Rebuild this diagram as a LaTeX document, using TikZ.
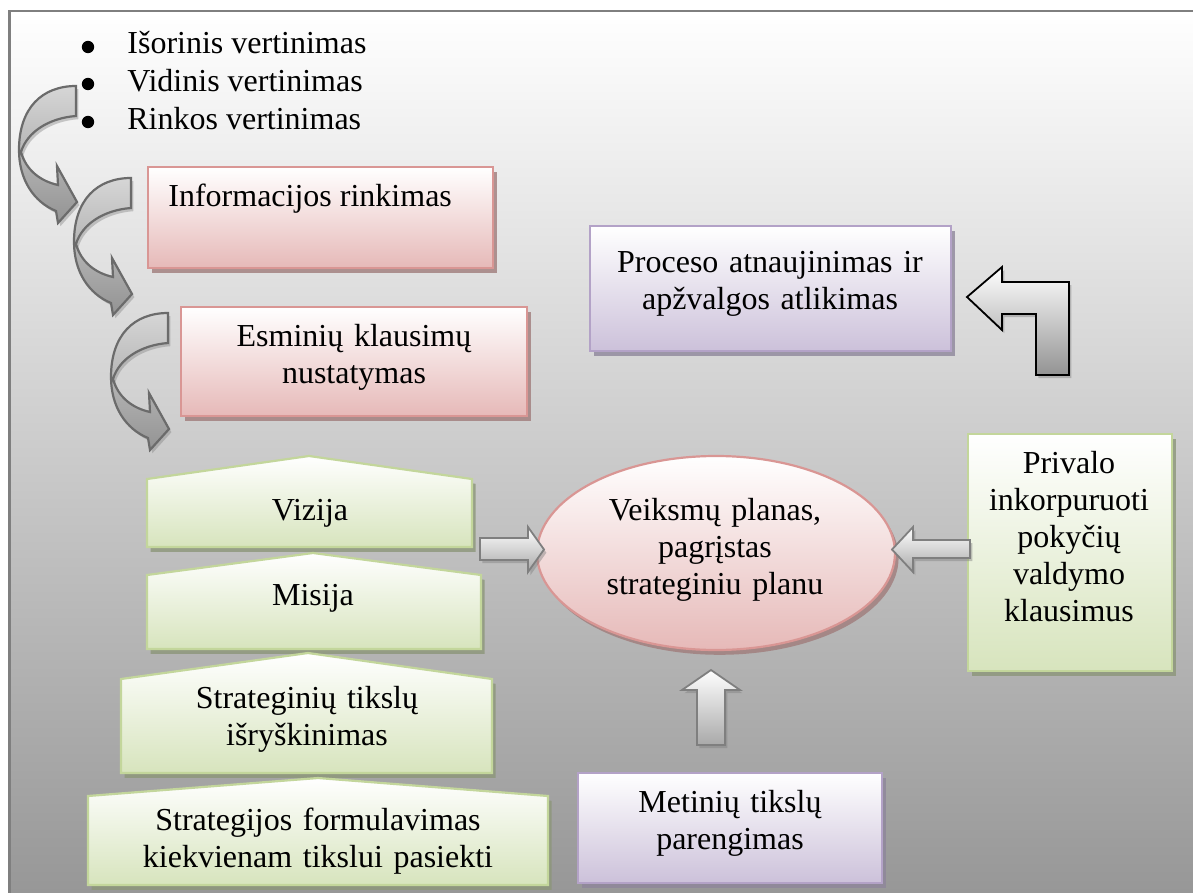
\documentclass[tikz,border=0pt]{standalone}
\usepackage{fontspec}
\setmainfont{Liberation Serif}
\usetikzlibrary{shadows,shapes.geometric}

\definecolor{framegray}{HTML}{7F7F7F}
\definecolor{bgbottom}{HTML}{979797}
\definecolor{pinkline}{HTML}{D99694}
\definecolor{pinkfill}{HTML}{E6B9B8}
\definecolor{pinkshadow}{HTML}{A07C7B}
\definecolor{greenline}{HTML}{C3D69B}
\definecolor{greenfill}{HTML}{D7E4BD}
\definecolor{greenshadow}{HTML}{8C9679}
\definecolor{violetline}{HTML}{B3A2C7}
\definecolor{violetfill}{HTML}{CCC1DA}
\definecolor{violetshadow}{HTML}{8E869B}
\definecolor{arrowline}{HTML}{6B6B6B}
\definecolor{arrowlight}{HTML}{D6D6D6}
\definecolor{arrowdark}{HTML}{939393}

\tikzset{
  txt/.style={font=\fontsize{16}{18.5}\selectfont, inner sep=0pt},
  mtxt/.style={txt, align=center, text width=#1},
  boxshadow/.style={drop shadow={shadow xshift=1.8pt, shadow yshift=-2.4pt, opacity=.8, fill=#1}},
  pinkbox/.style={rectangle, draw=pinkline, line width=1.1pt, top color=white, bottom color=pinkfill, boxshadow=pinkshadow, inner sep=0pt},
  greenbox/.style={rectangle, draw=greenline, line width=1.1pt, top color=white, bottom color=greenfill, boxshadow=greenshadow, inner sep=0pt},
  violetbox/.style={rectangle, draw=violetline, line width=1.1pt, top color=white, bottom color=violetfill, boxshadow=violetshadow, inner sep=0pt},
  greenhouse/.style={draw=greenline, line width=1.1pt, top color=white, bottom color=greenfill, boxshadow=greenshadow},
  blockarrow/.style={draw=framegray, line width=0.9pt, top color=white, bottom color=arrowdark!80, drop shadow={shadow xshift=1.2pt, shadow yshift=-1.6pt, opacity=.45, fill=gray}},
  bentarrow/.style={draw=black, line width=0.9pt, top color=white, bottom color=arrowdark, drop shadow={shadow xshift=1.2pt, shadow yshift=-1.6pt, opacity=.45, fill=gray}},
  curvestyle/.style={draw=arrowline, line width=1.1pt, top color=arrowlight, bottom color=arrowdark, drop shadow={shadow xshift=1.2pt, shadow yshift=-1.6pt, opacity=.4, fill=gray}},
  bulletdot/.style={circle, fill=black, minimum size=6.2pt, inner sep=0pt},
  curvarrow/.pic={
    \path[curvestyle] (0,0) .. controls (-34,0) and (-57,22) .. (-57,64)
      .. controls (-57,94) and (-42,116) .. (-20,125)
      -- (-18,137) -- (1,116) -- (-19,80) -- (-18,99)
      .. controls (-36,95) and (-50,84) .. (-55,66)
      .. controls (-49,46) and (-27,32) .. (0,30) -- cycle;
  }
}

\begin{document}
\begin{tikzpicture}[x=0.5pt, y=-0.5pt]
\useasboundingbox (0,0) rectangle (1193,893);

% page background and frame
\shade[top color=white, bottom color=bgbottom] (10,11) rectangle (1193,893);
\draw[framegray, line width=1.3pt] (9.7,893) -- (9.7,11) -- (1193,11);

% assessment list
\node[bulletdot] (d1) at (88,47) {};
\node[bulletdot] (d2) at (88,84) {};
\node[bulletdot] (d3) at (88,122) {};
\node[txt, anchor=base west] (l1) at (127,54) {Išorinis vertinimas};
\node[txt, anchor=base west] (l2) at (127,92) {Vidinis vertinimas};
\node[txt, anchor=base west] (l3) at (127,130) {Rinkos vertinimas};

% curved flow arrows
\pic at (76,86) {curvarrow};
\pic at (131,178) {curvarrow};
\pic at (168,313) {curvarrow};

% pink steps
\node[pinkbox, minimum width=172.5pt, minimum height=50.5pt] (info) at (320.5,217.5) {};
\node[txt, anchor=base west] (infot) at (168,207) {Informacijos rinkimas};
\node[pinkbox, minimum width=173pt, minimum height=54.5pt] (esm) at (354,361.5) {};
\node[mtxt=180pt, anchor=base] (esmt) at (354,346) {Esminių klausimų\\nustatymas};

% review box and bent arrow
\node[violetbox, minimum width=180.5pt, minimum height=62.5pt] (proc) at (770.5,288.5) {};
\node[mtxt=180pt, anchor=base] (proct) at (770,272) {Proceso atnaujinimas ir\\apžvalgos atlikimas};
\path[bentarrow] (967,297) -- (1002,267) -- (1002,282) -- (1069,282) -- (1069,375)
  -- (1036,375) -- (1036,314) -- (1002,314) -- (1002,330) -- cycle;

% strategy pyramid
\path[greenhouse] (147,547) -- (147,479) -- (309,456) -- (472,479) -- (472,547) -- cycle;
\node[txt, anchor=base] (viz) at (310,520) {Vizija};
\path[greenhouse] (147,649) -- (147,575) -- (313,553) -- (481,575) -- (481,649) -- cycle;
\node[txt, anchor=base] (mis) at (313,605) {Misija};
\path[greenhouse] (121,773) -- (121,679) -- (308,653) -- (492,679) -- (492,773) -- cycle;
\node[mtxt=200pt, anchor=base] (str) at (307,708) {Strateginių tikslų\\išryškinimas};
\path[greenhouse] (88,885) -- (88,796) -- (318,778) -- (548,796) -- (548,885) -- cycle;
\node[mtxt=230pt, anchor=base] (form) at (318,830) {Strategijos formulavimas\\kiekvienam tikslui pasiekti};

% action plan
\node[pinkbox, ellipse, minimum width=179pt, minimum height=97pt] (plan) at (716,553) {};
\node[mtxt=150pt, anchor=base] (plant) at (715,520) {Veiksmų planas,\\pagrįstas\\strateginiu planu};

% change management box
\node[greenbox, minimum width=102pt, minimum height=118.5pt] (priv) at (1070,552.5) {};
\node[mtxt=100pt, anchor=base] (privt) at (1069,473) {Privalo\\inkorpuruoti\\pokyčių\\valdymo\\klausimus};

% annual goals box
\node[violetbox, minimum width=152pt, minimum height=55pt] (met) at (730,828) {};
\node[mtxt=150pt, anchor=base] (mett) at (730,812) {Metinių tikslų\\parengimas};

% block arrows into the plan
\path[blockarrow] (480,538) -- (528,538) -- (528,527) -- (544,549.5) -- (528,572) -- (528,560) -- (480,560) -- cycle;
\path[blockarrow] (970,540) -- (913,540) -- (913,527) -- (892,549.5) -- (913,572) -- (913,558) -- (970,558) -- cycle;
\path[blockarrow] (697,745) -- (697,690) -- (682,690) -- (711,670) -- (740,690) -- (725,690) -- (725,745) -- cycle;
\end{tikzpicture}
\end{document}
